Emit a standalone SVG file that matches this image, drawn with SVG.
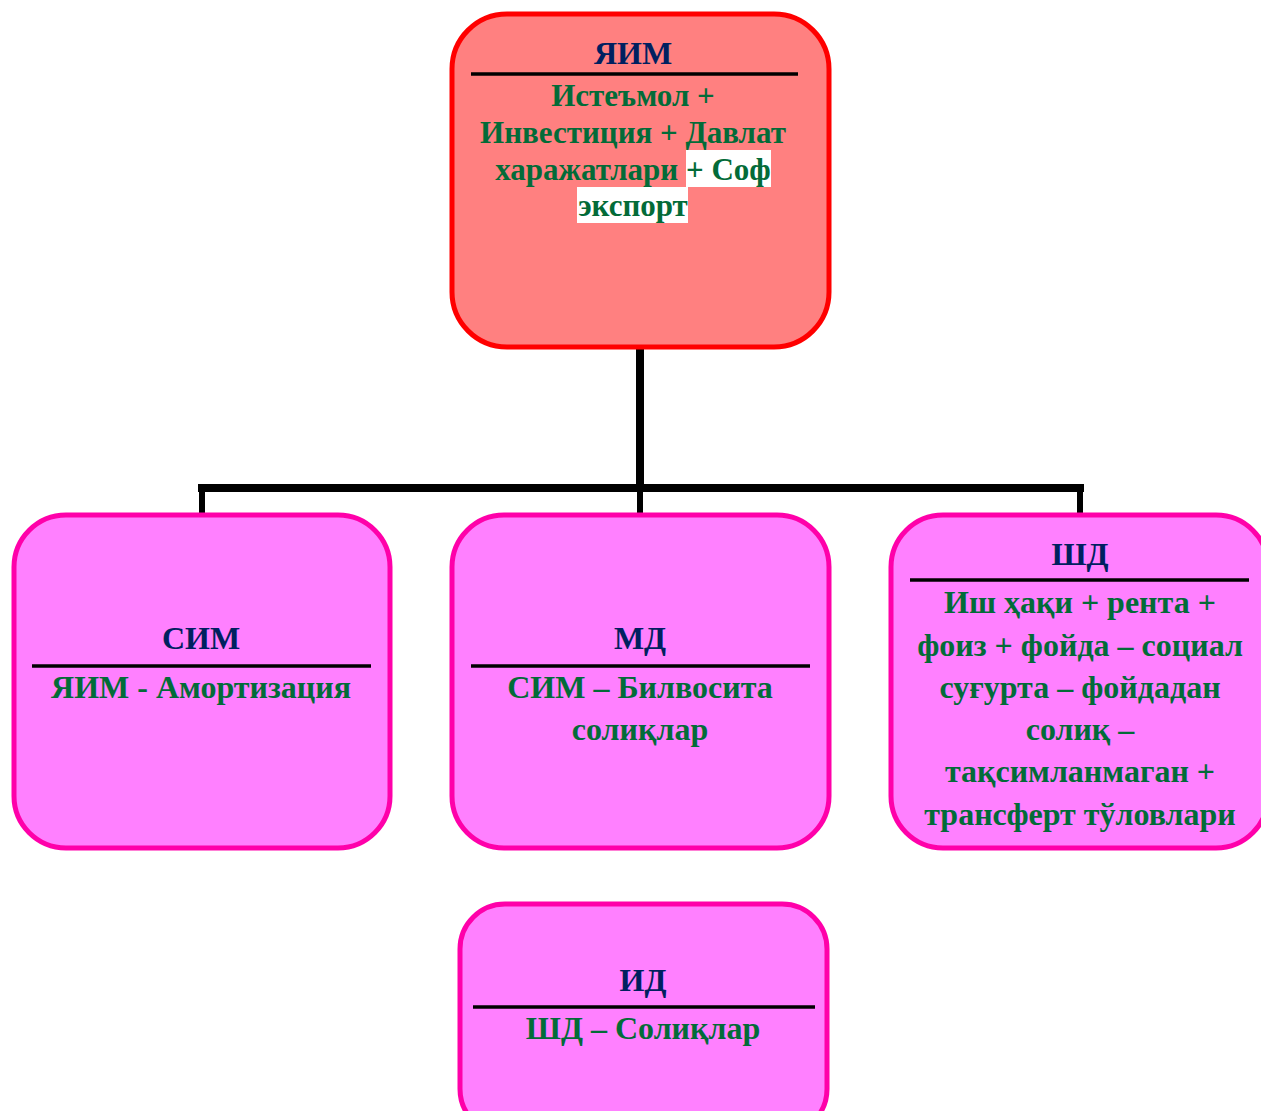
<svg xmlns="http://www.w3.org/2000/svg" width="1261" height="1111" viewBox="0 0 1261 1111">
<style>
.box{fill:#FF80FF;stroke:#FF00AA;stroke-width:5}
.top{fill:#FF8080;stroke:#FF0000;stroke-width:5}
.div{stroke:#000;stroke-width:3.5}
.h{font-family:"Liberation Serif","Times New Roman",serif;font-weight:bold;font-size:32px;fill:#002060;text-anchor:middle}
.b{font-family:"Liberation Serif","Times New Roman",serif;font-weight:bold;font-size:32px;fill:#036B38;text-anchor:middle}
.t{font-size:31px}
.c{stroke:#000;fill:none}
</style>
<rect width="1261" height="1111" fill="#fff"/>
<g id="connectors">
<line class="c" x1="640" y1="348" x2="640" y2="488" stroke-width="8"/>
<line class="c" x1="198" y1="488" x2="1084" y2="488" stroke-width="8"/>
<line class="c" x1="202" y1="488" x2="202" y2="514" stroke-width="6"/>
<line class="c" x1="640" y1="488" x2="640" y2="514" stroke-width="6"/>
<line class="c" x1="1080" y1="488" x2="1080" y2="514" stroke-width="6"/>
</g>
<g id="node-yim">
<rect class="top" x="452" y="14" width="377" height="333" rx="55"/>
<text class="h" x="633" y="64">ЯИМ</text>
<line class="div" x1="471" y1="74" x2="798" y2="74"/>
<rect x="686" y="150" width="85" height="37" fill="#fff"/>
<rect x="577" y="187" width="111" height="36" fill="#fff"/>
<text class="b t" x="633" y="106">Истеъмол +</text>
<text class="b t" x="633" y="143">Инвестиция + Давлат</text>
<text class="b t" x="633" y="180">харажатлари + Соф</text>
<text class="b t" x="633" y="216">экспорт</text>
</g>
<g id="node-sim">
<rect class="box" x="14" y="515" width="376" height="333" rx="52"/>
<text class="h" x="201" y="649">СИМ</text>
<line class="div" x1="32" y1="666" x2="371" y2="666"/>
<text class="b" x="201" y="698">ЯИМ - Амортизация</text>
</g>
<g id="node-md">
<rect class="box" x="452" y="515" width="377" height="333" rx="52"/>
<text class="h" x="640" y="649">МД</text>
<line class="div" x1="471" y1="666" x2="810" y2="666"/>
<text class="b" x="640" y="698">СИМ – Билвосита</text>
<text class="b" x="640" y="740">солиқлар</text>
</g>
<g id="node-shd">
<rect class="box" x="891" y="515" width="377" height="333" rx="52"/>
<text class="h" x="1080" y="565">ШД</text>
<line class="div" x1="910" y1="580" x2="1249" y2="580"/>
<text class="b" x="1080" y="613">Иш ҳақи + рента +</text>
<text class="b" x="1080" y="656">фоиз + фойда – социал</text>
<text class="b" x="1080" y="698">суғурта – фойдадан</text>
<text class="b" x="1080" y="740">солиқ –</text>
<text class="b" x="1080" y="782">тақсимланмаган +</text>
<text class="b" x="1080" y="825">трансферт тўловлари</text>
</g>
<g id="node-id">
<rect class="box" x="460" y="904" width="367" height="230" rx="45"/>
<text class="h" x="643" y="991">ИД</text>
<line class="div" x1="473" y1="1007" x2="815" y2="1007"/>
<text class="b" x="643" y="1039">ШД – Солиқлар</text>
</g>
</svg>
